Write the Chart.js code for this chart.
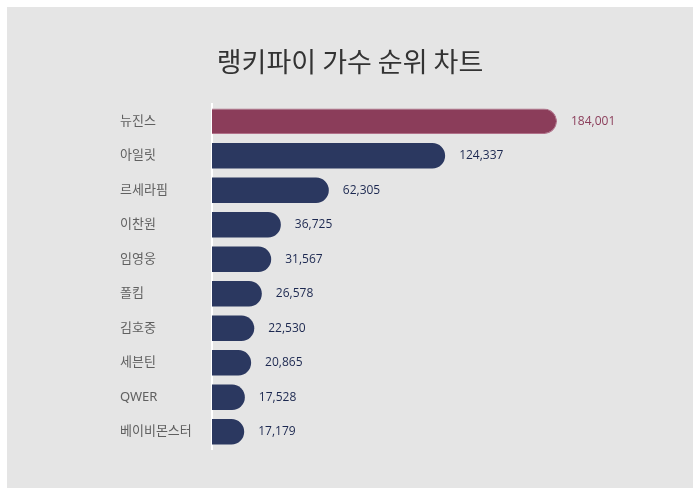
<!DOCTYPE html>
<html lang="ko">
<head>
    <meta charset="UTF-8">
    <title>랭키파이 가수 순위 차트</title>
    <script src="https://cdn.jsdelivr.net/npm/chart.js"></script>
    <style>
        body { margin: 0; background: #ffffff; }
        .panel {
            position: absolute;
            left: 7px; top: 7px;
            width: 686px; height: 481px;
            background: #e5e5e5;
        }
    </style>
</head>
<body>
    <div class="panel">
        <canvas id="rankChart"></canvas>
    </div>

    <script>
        // chart data
        const singers = ["뉴진스", "아일릿", "르세라핌", "이찬원", "임영웅", "폴킴", "김호중", "세븐틴", "QWER", "베이비몬스터"];
        const scores = [184001, 124337, 62305, 36725, 31567, 26578, 22530, 20865, 17528, 17179];
        const chartTitle = "랭키파이 가수 순위 차트";

        const topColor = "#8b3d5a";
        const restColor = "#2b3860";

        // title centred on the whole panel (the built-in one follows the padding)
        const centerTitle = {
            id: "centerTitle",
            afterDraw(chart) {
                const ctx = chart.ctx;
                ctx.save();
                ctx.font = "27px 'Noto Sans CJK KR', sans-serif";
                ctx.fillStyle = "#333333";
                ctx.textAlign = "center";
                ctx.textBaseline = "middle";
                ctx.fillText(chartTitle, chart.width / 2, 55);
                ctx.restore();
            }
        };

        // draw the number right after each bar
        const valueLabels = {
            id: "valueLabels",
            afterDatasetsDraw(chart) {
                const ctx = chart.ctx;
                const meta = chart.getDatasetMeta(0);
                ctx.save();
                ctx.font = "500 12px 'Open Sans', sans-serif";
                ctx.textAlign = "left";
                ctx.textBaseline = "middle";
                meta.data.forEach((bar, i) => {
                    ctx.fillStyle = i === 0 ? "#8b3d5a" : "#1c2850";
                    ctx.fillText(scores[i].toLocaleString("en-US"), bar.x + 14, bar.y);
                });
                ctx.restore();
            }
        };

        const ctx = document.getElementById("rankChart").getContext("2d");
        new Chart(ctx, {
            type: "bar",
            data: {
                labels: singers,
                datasets: [{
                    data: scores,
                    backgroundColor: scores.map((v, i) => i === 0 ? topColor : restColor),
                    borderColor: scores.map((v, i) => i === 0 ? "#b07089" : restColor),
                    borderWidth: scores.map((v, i) => i === 0 ? 1 : 0),
                    borderSkipped: "start",
                    borderRadius: 13,
                    categoryPercentage: 1,
                    barPercentage: 0.74
                }]
            },
            plugins: [valueLabels, centerTitle],
            options: {
                indexAxis: "y",
                responsive: true,
                maintainAspectRatio: false,
                animation: false,
                layout: {
                    padding: { left: 113, right: 31, top: 97, bottom: 39 }
                },
                plugins: {
                    legend: { display: false },
                    tooltip: { enabled: false },
                    title: { display: false }
                },
                scales: {
                    x: {
                        display: false,
                        min: 0,
                        max: 240000
                    },
                    y: {
                        grid: { display: false, drawTicks: false },
                        border: { display: true, color: "#ffffff", width: 2 },
                        ticks: {
                            crossAlign: "far",
                            color: "#606060",
                            font: { family: "'Noto Sans', 'Noto Sans CJK KR', sans-serif", size: 13 }
                        },
                        afterFit(scale) {
                            scale.width = 92;
                        }
                    }
                }
            }
        });
    </script>
</body>
</html>
